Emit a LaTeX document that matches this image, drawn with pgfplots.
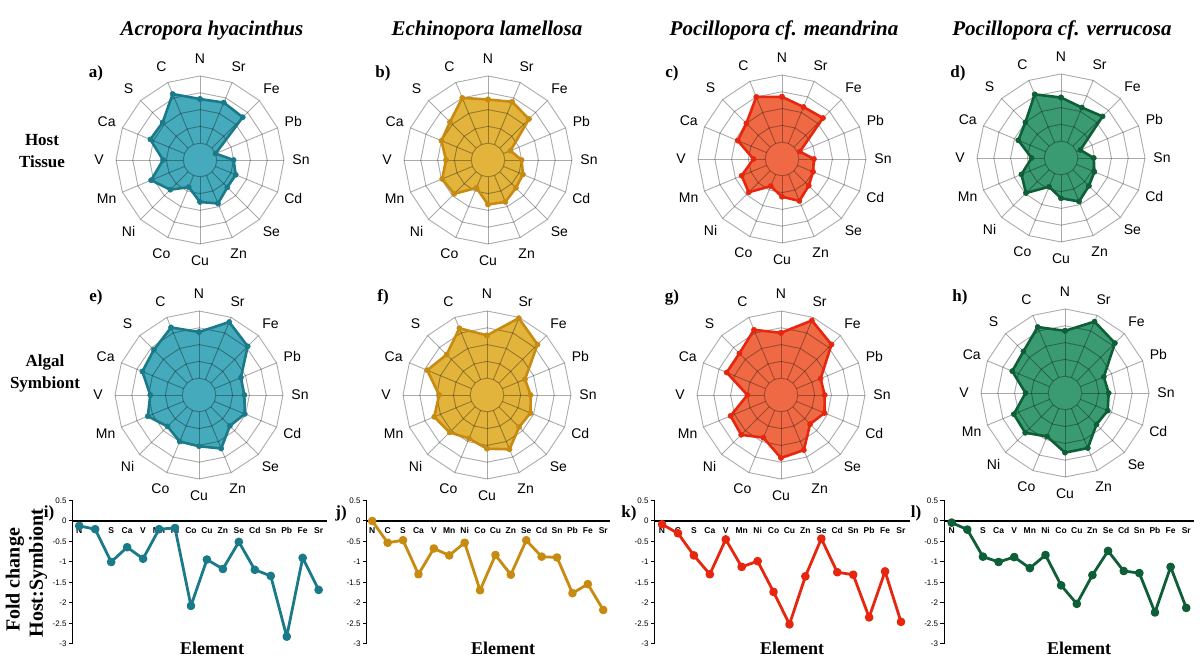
\documentclass[border=0pt]{standalone}
\usepackage{pgfplots}
\pgfplotsset{compat=1.18}
\usepackage{pgfplotstable}
\usepackage{fontspec}
\setmainfont{Liberation Serif}
\setsansfont{Liberation Sans}

\definecolor{tealF}{HTML}{45AABB}
\definecolor{tealL}{HTML}{1A7A8A}
\definecolor{goldF}{HTML}{E3B43C}
\definecolor{goldL}{HTML}{C88B12}
\definecolor{redF}{HTML}{EF6A44}
\definecolor{redL}{HTML}{E6260E}
\definecolor{greenF}{HTML}{3A9B72}
\definecolor{greenL}{HTML}{0E5E37}

% radar data: angle, host tissue (h), algal symbiont (a)
% order clockwise from top: N Sr Fe Pb Sn Cd Se Zn Cu Co Ni Mn V Ca S C (N repeated)
\pgfplotstableread{
ang h a
90 3.63 3.75
67.5 3.70 4.70
45 3.60 4.10
22.5 1.00 2.70
0 2.00 2.70
-22.5 2.30 2.95
-45 2.30 2.60
-67.5 2.80 3.45
-90 2.50 3.05
-112.5 1.75 3.00
-135 2.50 2.65
-157.5 3.15 3.30
-180 2.20 2.90
-202.5 3.20 3.65
-225 3.15 3.80
-247.5 4.25 4.35
-270 3.63 3.75
}\tabA
\pgfplotstableread{
ang h a
90 3.60 3.55
67.5 3.75 4.95
45 3.45 4.25
22.5 1.45 2.45
0 2.00 2.60
-22.5 2.25 2.80
-45 2.35 2.70
-67.5 2.70 3.50
-90 2.65 3.20
-112.5 1.80 2.80
-135 2.85 3.15
-157.5 2.95 3.40
-180 2.50 2.85
-202.5 3.00 3.85
-225 3.20 3.40
-247.5 4.00 4.30
-270 3.60 3.55
}\tabB
\pgfplotstableread{
ang h a
90 3.70 3.70
67.5 3.35 4.80
45 3.45 4.25
22.5 1.15 2.55
0 1.90 2.60
-22.5 2.00 2.80
-45 2.25 2.45
-67.5 2.70 3.55
-90 2.25 3.75
-112.5 1.75 2.75
-135 2.80 3.35
-157.5 2.60 3.25
-180 1.70 2.00
-202.5 2.85 3.50
-225 3.00 3.50
-247.5 4.00 4.20
-270 3.70 3.70
}\tabC
\pgfplotstableread{
ang h a
90 3.60 3.70
67.5 3.25 4.60
45 3.50 4.20
22.5 1.25 2.50
0 1.95 2.60
-22.5 2.15 2.75
-45 2.35 2.65
-67.5 2.80 3.55
-90 2.40 3.55
-112.5 1.85 2.80
-135 2.95 3.35
-157.5 2.55 3.30
-180 1.75 2.35
-202.5 2.75 3.40
-225 3.00 3.50
-247.5 4.10 4.25
-270 3.60 3.70
}\tabD
\pgfplotstableread{
ang one
0 1
22.5 1
45 1
67.5 1
90 1
112.5 1
135 1
157.5 1
180 1
202.5 1
225 1
247.5 1
270 1
292.5 1
315 1
337.5 1
360 1
}\ringtab

% fold change Host:Symbiont, order N C S Ca V Mn Ni Co Cu Zn Se Cd Sn Pb Fe Sr
\pgfplotstableread{
x A B C D
0 -0.12 0.00 -0.08 -0.04
1 -0.20 -0.53 -0.30 -0.21
2 -1.00 -0.47 -0.84 -0.87
3 -0.64 -1.30 -1.30 -1.00
4 -0.92 -0.67 -0.45 -0.88
5 -0.20 -0.84 -1.12 -1.15
6 -0.17 -0.53 -0.98 -0.83
7 -2.07 -1.69 -1.73 -1.57
8 -0.94 -0.83 -2.52 -2.02
9 -1.17 -1.31 -1.35 -1.32
10 -0.51 -0.47 -0.43 -0.73
11 -1.19 -0.87 -1.25 -1.22
12 -1.34 -0.89 -1.31 -1.27
13 -2.82 -1.76 -2.35 -2.23
14 -0.90 -1.54 -1.23 -1.12
15 -1.68 -2.17 -2.46 -2.12
}\tabL

\tikzset{radgrid/.style={black, draw opacity=0.33, line width=0.9pt}}

\newcommand{\radar}[6]{%
\begin{axis}[at={(#1pt,671pt-#2pt)}, anchor=center, x=16.8pt, y=16.8pt,
  xmin=-6, xmax=6, ymin=-6, ymax=6, hide axis, clip=false]
\addplot[draw=none, fill=#5, data cs=polar] table[x=ang, y=#4]{#3};
\pgfplotsinvokeforeach{1,...,5}{\addplot[radgrid, data cs=polar] table[x=ang, y expr=##1*\thisrow{one}]{\ringtab};}
\pgfplotsinvokeforeach{0,22.5,...,337.5}{\addplot[radgrid, data cs=polar] coordinates {(##1,1) (##1,5)};}
\addplot[#6, line width=2.6pt, line join=round, mark=*, mark size=2.6pt, mark options={fill=#6, draw=#6, line width=0.5pt}, data cs=polar] table[x=ang, y=#4]{#3};
\end{axis}
\foreach \a/\l in {90/N,67.5/Sr,45/Fe,22.5/Pb,0/Sn,-22.5/Cd,-45/Se,-67.5/Zn,-90/Cu,-112.5/Co,-135/Ni,-157.5/Mn,180/V,157.5/Ca,135/S,112.5/C}
  \node[font=\sffamily\fontsize{14}{16}\selectfont, inner sep=0pt] at ([shift={(\a:101pt)}]#1pt,671pt-#2pt) {\l};
}

\newcommand{\lineax}[6]{%
\begin{axis}[at={(#1pt,27pt)}, anchor=south west, x=#2pt, y=41pt,
  xmin=#3, xmax=#4, ymin=-3, ymax=0.5, clip=false,
  axis x line=middle, axis y line=left,
  hide obscured x ticks=false, hide obscured y ticks=false,
  axis line style={-, black, line width=1.1pt},
  xtick={0,...,15},
  xticklabels={N,C,S,Ca,V,Mn,Ni,Co,Cu,Zn,Se,Cd,Sn,Pb,Fe,Sr},
  x tick style={draw=none},
  xticklabel style={font=\sffamily\bfseries\fontsize{8.5}{10}\selectfont, inner sep=2pt},
  ytick={-3,-2.5,-2,-1.5,-1,-0.5,0,0.5},
  yticklabels={-3,-2.5,-2,-1.5,-1,-0.5,0,0.5},
  yticklabel style={font=\sffamily\fontsize{8}{9}\selectfont, inner sep=2pt},
  y tick style={black, line width=1pt},
  tick align=outside, major tick length=4pt]
\addplot[#6, line width=2.8pt, line join=round, mark=*, mark size=2.9pt, mark options={fill=#6, draw=#6}] table[x=x, y=#5]{\tabL};
\end{axis}}

\begin{document}
\begin{tikzpicture}[x=1pt, y=1pt]
\useasboundingbox (0,0) rectangle (1200,671);

% titles
\begin{scope}[every node/.style={font=\bfseries\itshape\fontsize{21}{24}\selectfont}]
\node at (212,641) {Acropora hyacinthus};
\node at (487,641) {Echinopora lamellosa};
\node at (784,641) {Pocillopora cf. meandrina};
\node at (1062,641) {Pocillopora cf. verrucosa};
\end{scope}

% row labels
\begin{scope}[every node/.style={font=\bfseries\fontsize{17}{19}\selectfont}]
\node at (42,531) {Host};
\node at (42,509) {Tissue};
\node at (45,309) {Algal};
\node at (45,287) {Symbiont};
\end{scope}

% radar charts
\radar{200}{160}{\tabA}{h}{tealF}{tealL}
\radar{488}{160}{\tabB}{h}{goldF}{goldL}
\radar{782}{159}{\tabC}{h}{redF}{redL}
\radar{1061}{158}{\tabD}{h}{greenF}{greenL}
\radar{199}{395}{\tabA}{a}{tealF}{tealL}
\radar{487}{395}{\tabB}{a}{goldF}{goldL}
\radar{781}{395}{\tabC}{a}{redF}{redL}
\radar{1065}{393}{\tabD}{a}{greenF}{greenL}

% line charts
\lineax{72.7}{15.96}{-0.41}{15.5}{A}{tealL}
\lineax{366.7}{15.4}{-0.36}{15.43}{B}{goldL}
\lineax{654.7}{15.93}{-0.46}{15.57}{C}{redL}
\lineax{944.3}{15.64}{-0.47}{15.49}{D}{greenL}

% panel letters
\begin{scope}[every node/.style={font=\bfseries\fontsize{17}{19}\selectfont}]
\node at (96,598) {a)};
\node at (383,598) {b)};
\node at (672,598) {c)};
\node at (958,598) {d)};
\node at (96,374) {e)};
\node at (383,374) {f)};
\node at (672,374) {g)};
\node at (960,374) {h)};
\node at (49,158) {i)};
\node at (341,158) {j)};
\node at (629,158) {k)};
\node at (916,158) {l)};
\end{scope}

% bottom labels
\begin{scope}[every node/.style={font=\bfseries\fontsize{18}{20}\selectfont}]
\node at (212,23) {Element};
\node at (503,23) {Element};
\node at (792,23) {Element};
\node at (1079,23) {Element};
\end{scope}
\begin{scope}[every node/.style={font=\bfseries\fontsize{20}{22}\selectfont}]
\node[rotate=90] at (15,91) {Fold change};
\node[rotate=90] at (38,98) {Host:Symbiont};
\end{scope}
\end{tikzpicture}
\end{document}
